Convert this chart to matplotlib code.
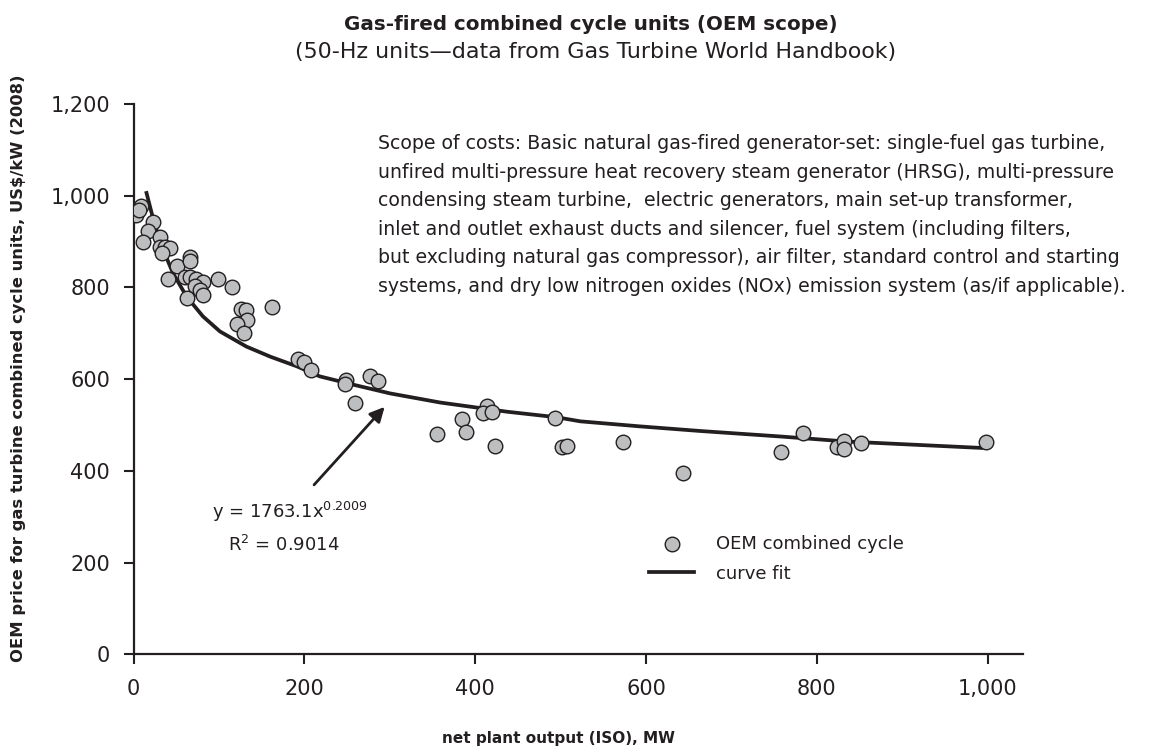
#!/bin/python

import matplotlib
matplotlib.use("Agg")
import matplotlib.pyplot as plt


# OEM combined cycle units (MW, US$/kW).
unit_mw = [3, 9, 6, 23, 17, 11, 31, 31, 37, 43, 33, 51, 66, 66, 40, 60, 66,
           73, 81, 72, 78, 81, 62, 99, 115, 126, 132, 133, 121, 129, 162, 192,
           199, 208, 249, 248, 277, 286, 259, 355, 385, 389, 414, 409, 420,
           423, 493, 502, 507, 573, 643, 758, 784, 824, 832, 832, 852, 998]
unit_price = [958, 978, 968, 942, 922, 900, 911, 889, 889, 886, 875, 846, 867,
              858, 818, 822, 822, 818, 811, 804, 795, 784, 777, 818, 802, 753,
              751, 729, 720, 700, 758, 644, 637, 619, 598, 590, 606, 597, 549,
              480, 514, 484, 542, 526, 528, 455, 516, 452, 455, 463, 396, 442,
              483, 452, 466, 447, 460, 462]

# Curve fit as drawn in the chart.
fit_mw = [15, 23, 33, 46, 62, 81, 101, 132, 160, 191, 218, 257, 300, 359,
          398, 437, 495, 523, 593, 663, 757, 835, 993]
fit_price = [1006, 948, 889, 831, 780, 737, 704, 671, 649, 628, 606, 588, 569,
             549, 539, 529, 517, 508, 497, 487, 475, 464, 450]

x_ticks = [0, 200, 400, 600, 800, 1000]
y_ticks = [0, 200, 400, 600, 800, 1000, 1200]

INK = "#231f20"

SCOPE_TEXT = ("Scope of costs: Basic natural gas-fired generator-set: single-fuel gas turbine,\n"
              "unfired multi-pressure heat recovery steam generator (HRSG), multi-pressure\n"
              "condensing steam turbine,  electric generators, main set-up transformer,\n"
              "inlet and outlet exhaust ducts and silencer, fuel system (including filters,\n"
              "but excluding natural gas compressor), air filter, standard control and starting\n"
              "systems, and dry low nitrogen oxides (NOx) emission system (as/if applicable).")


def plot_costs():
    plt.rcParams['font.family'] = ['DejaVu Sans']
    fig = plt.figure(figsize=(11.55, 7.49), dpi=100)
    W, H = 1155.0, 749.0
    ax = fig.add_axes([133.7 / W, 1 - 654.3 / H, 889.0 / W, 550.3 / H])

    ax.plot(fit_mw, fit_price, c=INK, lw=2.7, label="curve fit", zorder=3)
    ax.scatter(unit_mw, unit_price, s=110, facecolor="#bcbec0", edgecolor=INK,
               linewidth=1.0, label="OEM combined cycle", zorder=4)

    ax.set_xlim(0, 1041)
    ax.set_ylim(0, 1200)
    ax.set_xticks(x_ticks)
    ax.set_yticks(y_ticks)
    ax.set_xticklabels(["{:,}".format(v) for v in x_ticks])
    ax.set_yticklabels(["{:,}".format(v) for v in y_ticks])
    for side in ("top", "right"):
        ax.spines[side].set_visible(False)
    for side in ("left", "bottom"):
        ax.spines[side].set_color(INK)
        ax.spines[side].set_linewidth(1.6)
    ax.tick_params(axis="both", direction="out", length=7, width=1.5,
                   color=INK, labelcolor=INK, labelsize=15)
    ax.tick_params(axis="y", pad=10)
    ax.tick_params(axis="x", pad=11)

    # Fit equation and arrow.
    ax.annotate("", xy=(296, 544), xytext=(209, 365),
                arrowprops=dict(arrowstyle="-|>", color=INK, lw=2,
                                mutation_scale=22))
    fig.text(212 / W, 1 - 512 / H, "y = 1763.1x$^{0.2009}$", fontsize=13,
             color=INK, va="center")
    fig.text(228 / W, 1 - 545 / H, "R$^2$ = 0.9014", fontsize=13,
             color=INK, va="center")

    handles, labels = ax.get_legend_handles_labels()
    leg = ax.legend(handles[::-1], labels[::-1], loc="upper left",
                    bbox_to_anchor=(649 / W, 1 - 535 / H),
                    bbox_transform=fig.transFigure, frameon=False,
                    fontsize=13, handlelength=2.5, handletextpad=1.2,
                    labelspacing=0.65, borderpad=0, borderaxespad=0,
                    scatterpoints=1)
    for t in leg.get_texts():
        t.set_color(INK)

    fig.text(378 / W, 1 - 134 / H, SCOPE_TEXT, fontsize=13.6, color=INK,
             va="top", ha="left", linespacing=1.64)

    # Titles and axis labels.
    fig.text(591 / W, 1 - 24 / H, "Gas-fired combined cycle units (OEM scope)",
             fontsize=14.3, fontweight="bold", color=INK, ha="center", va="center")
    fig.text(596 / W, 1 - 52 / H,
             "(50-Hz units\u2014data from Gas Turbine World Handbook)",
             fontsize=15.9, color=INK, ha="center", va="center")
    fig.text(19 / W, 1 - 368 / H,
             "OEM price for gas turbine combined cycle units, US$/kW (2008)",
             fontsize=11.8, fontweight="bold", color=INK, rotation=90,
             ha="center", va="center")
    fig.text(559 / W, 1 - 739 / H, "net plant output (ISO), MW", fontsize=11,
             fontweight="bold", color=INK, ha="center", va="center")

    fig.savefig("out.png", dpi=100)


if __name__ == "__main__":
    plot_costs()
